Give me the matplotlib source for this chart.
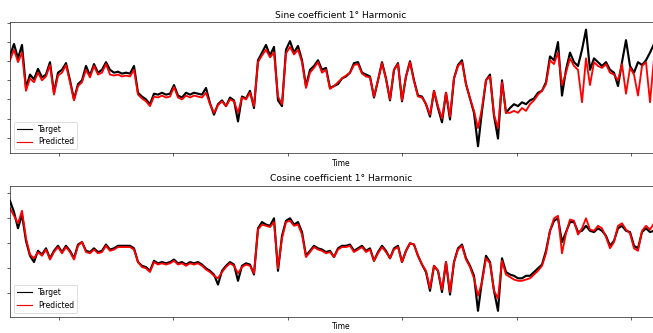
import numpy as np
import matplotlib
matplotlib.use("Agg")
import matplotlib.pyplot as plt

# sine coefficient, 1st harmonic
sin_target = [0.26, 0.38, 0.23, 0.37, -0.08, 0.06, 0.01, 0.12, 0.03, 0.06, 0.19, -0.13, 0.08, 0.11, 0.18, 0.00,
              -0.20, -0.04, 0.00, 0.15, 0.05, 0.17, 0.08, 0.11, 0.19, 0.11, 0.08, 0.09, 0.07, 0.08, 0.07, 0.15,
              -0.13, -0.17, -0.20, -0.25, -0.14, -0.15, -0.13, -0.15, -0.14, -0.05, -0.16, -0.18, -0.13, -0.15, -0.13, -0.14,
              -0.15, -0.08, -0.24, -0.36, -0.25, -0.21, -0.27, -0.18, -0.21, -0.43, -0.17, -0.19, -0.11, -0.29, 0.21, 0.29,
              0.37, 0.26, 0.35, -0.21, -0.27, 0.32, 0.41, 0.29, 0.36, 0.21, -0.06, 0.11, 0.15, 0.21, 0.11, 0.13,
              -0.08, -0.06, -0.04, 0.02, 0.04, 0.08, 0.18, 0.19, 0.08, 0.06, 0.04, -0.18, 0.00, 0.19, 0.02, -0.21,
              0.11, 0.18, -0.22, 0.04, 0.20, 0.00, -0.16, -0.17, -0.25, -0.38, -0.11, -0.29, -0.44, -0.13, -0.41, 0.02,
              0.16, 0.21, -0.04, -0.19, -0.34, -0.69, -0.32, 0.00, 0.06, -0.37, -0.61, 0.00, -0.34, -0.29, -0.25, -0.27,
              -0.23, -0.25, -0.21, -0.19, -0.13, -0.11, -0.02, 0.25, 0.21, 0.40, -0.16, 0.11, 0.29, 0.19, 0.15, 0.32,
              0.53, 0.11, 0.23, 0.19, 0.15, 0.19, 0.11, 0.08, -0.06, 0.19, 0.42, 0.15, 0.08, 0.19, 0.16, 0.21,
              0.29, 0.38, 0.21, 0.17, 0.21, 0.19]
sin_pred = [0.21, 0.32, 0.19, 0.29, -0.11, 0.02, -0.02, 0.08, 0.00, 0.04, 0.16, -0.15, 0.05, 0.08, 0.16, -0.02,
            -0.21, -0.06, -0.02, 0.11, 0.03, 0.15, 0.06, 0.08, 0.17, 0.06, 0.05, 0.06, 0.04, 0.05, 0.04, 0.11,
            -0.15, -0.19, -0.22, -0.27, -0.17, -0.18, -0.16, -0.18, -0.17, -0.07, -0.18, -0.20, -0.16, -0.18, -0.16, -0.17,
            -0.18, -0.13, -0.25, -0.34, -0.26, -0.22, -0.27, -0.20, -0.22, -0.34, -0.18, -0.20, -0.13, -0.27, 0.19, 0.26,
            0.32, 0.24, 0.29, -0.17, -0.25, 0.28, 0.35, 0.27, 0.32, 0.19, -0.08, 0.08, 0.13, 0.19, 0.08, 0.11,
            -0.09, -0.06, -0.02, 0.02, 0.05, 0.08, 0.16, 0.17, 0.07, 0.04, 0.03, -0.17, 0.00, 0.18, 0.01, -0.20,
            0.11, 0.17, -0.21, 0.04, 0.19, -0.01, -0.17, -0.18, -0.25, -0.36, -0.11, -0.27, -0.40, -0.13, -0.38, 0.02,
            0.15, 0.19, -0.04, -0.19, -0.32, -0.50, -0.29, 0.00, 0.04, -0.36, -0.50, -0.02, -0.34, -0.34, -0.32, -0.34,
            -0.29, -0.32, -0.25, -0.21, -0.15, -0.11, -0.04, 0.21, 0.17, 0.29, -0.05, 0.08, 0.23, 0.15, 0.11, -0.23,
            0.23, -0.05, 0.19, 0.15, 0.13, 0.17, 0.08, 0.06, 0.00, 0.17, -0.14, 0.13, 0.06, -0.16, 0.15, 0.19,
            -0.23, 0.23, 0.19, 0.15, 0.19, 0.17]

# cosine coefficient, 1st harmonic
cos_target = [0.34, 0.25, 0.12, 0.23, 0.02, -0.10, -0.15, -0.06, -0.09, -0.04, -0.12, -0.06, -0.02, -0.07, -0.02, -0.06,
              -0.12, -0.01, 0.01, -0.06, -0.07, -0.04, -0.07, -0.06, -0.01, -0.05, -0.04, -0.02, -0.02, -0.02, -0.02, -0.04,
              -0.15, -0.18, -0.19, -0.22, -0.14, -0.16, -0.15, -0.16, -0.15, -0.13, -0.16, -0.15, -0.17, -0.15, -0.16, -0.15,
              -0.17, -0.20, -0.22, -0.25, -0.33, -0.22, -0.18, -0.15, -0.17, -0.30, -0.18, -0.16, -0.17, -0.25, 0.12, 0.17,
              0.15, 0.14, 0.20, -0.22, 0.06, 0.18, 0.20, 0.15, 0.17, 0.09, -0.10, -0.06, -0.02, -0.04, -0.05, -0.07,
              -0.06, -0.11, -0.04, -0.02, -0.02, -0.01, -0.06, -0.04, -0.02, -0.06, -0.04, -0.14, -0.07, -0.02, -0.06, -0.12,
              -0.04, -0.02, -0.15, -0.06, 0.00, -0.01, -0.10, -0.17, -0.23, -0.38, -0.18, -0.22, -0.39, -0.15, -0.41, -0.15,
              -0.04, -0.01, -0.12, -0.18, -0.26, -0.54, -0.30, -0.10, -0.15, -0.38, -0.54, -0.12, -0.23, -0.25, -0.26, -0.28,
              -0.28, -0.26, -0.26, -0.23, -0.20, -0.17, -0.06, 0.10, 0.18, 0.20, 0.01, 0.09, 0.17, 0.17, 0.09, 0.10,
              0.14, 0.10, 0.09, 0.12, 0.10, 0.06, -0.02, 0.02, 0.12, 0.14, 0.10, 0.09, -0.02, -0.04, 0.09, 0.12,
              0.09, 0.10, 0.10, 0.12, 0.10, 0.10]
cos_pred = [0.28, 0.22, 0.16, 0.26, 0.04, -0.09, -0.12, -0.07, -0.10, -0.05, -0.13, -0.07, -0.03, -0.08, -0.03, -0.07,
            -0.13, -0.02, 0.01, -0.07, -0.08, -0.05, -0.08, -0.07, -0.02, -0.06, -0.05, -0.03, -0.03, -0.03, -0.03, -0.05,
            -0.15, -0.19, -0.20, -0.23, -0.15, -0.17, -0.16, -0.17, -0.16, -0.14, -0.17, -0.16, -0.18, -0.16, -0.17, -0.16,
            -0.18, -0.21, -0.23, -0.26, -0.28, -0.23, -0.19, -0.16, -0.18, -0.24, -0.19, -0.17, -0.18, -0.24, 0.11, 0.15,
            0.14, 0.13, 0.17, -0.20, 0.04, 0.17, 0.18, 0.14, 0.15, 0.07, -0.11, -0.07, -0.03, -0.05, -0.06, -0.08,
            -0.07, -0.11, -0.05, -0.03, -0.03, -0.02, -0.07, -0.05, -0.03, -0.07, -0.05, -0.14, -0.08, -0.03, -0.07, -0.12,
            -0.05, -0.03, -0.15, -0.06, 0.00, -0.01, -0.10, -0.17, -0.22, -0.36, -0.18, -0.22, -0.37, -0.15, -0.39, -0.15,
            -0.05, -0.02, -0.13, -0.19, -0.28, -0.42, -0.31, -0.12, -0.16, -0.38, -0.44, -0.14, -0.25, -0.27, -0.29, -0.30,
            -0.30, -0.29, -0.28, -0.25, -0.22, -0.18, -0.08, 0.10, 0.20, 0.22, -0.08, 0.08, 0.19, 0.18, 0.07, 0.12,
            0.20, 0.11, 0.10, 0.14, 0.12, 0.05, -0.04, 0.01, 0.14, 0.16, 0.11, 0.08, -0.04, -0.06, 0.10, 0.14,
            0.11, 0.16, 0.12, 0.13, 0.12, 0.12]

assert len(sin_target) == len(sin_pred) == len(cos_target) == len(cos_pred)
t = np.arange(len(sin_target))

fig = plt.figure(figsize=(653 / 55, 333 / 55), dpi=55)
ax1 = fig.add_axes([0.0153, 0.5396, 1.0138, 0.3934])
ax2 = fig.add_axes([0.0153, 0.0490, 1.0138, 0.3934])

panels = [
    (ax1, sin_target, sin_pred, 'Sine coefficient 1° Harmonic', (-0.764, 0.607), np.arange(-0.6, 0.61, 0.2)),
    (ax2, cos_target, cos_pred, 'Cosine coefficient 1° Harmonic', (-0.587, 0.461), np.arange(-0.4, 0.41, 0.2)),
]
for ax, tgt, pred, title, ylim, yt in panels:
    ax.plot(t, tgt, color='black', lw=2.8, label='Target')
    ax.plot(t, pred, color='red', lw=2.4, label='Predicted')
    ax.set_title(title)
    ax.set_xlabel('Time')
    ax.set_xlim(0, 165.5)
    ax.set_ylim(*ylim)
    ax.set_xticks(np.arange(12.25, 166, 28.6))
    ax.set_yticks(yt)
    ax.tick_params(labelbottom=False, labelleft=False)
    leg = ax.legend(loc='lower left')
    for line in leg.get_lines():
        line.set_linewidth(1.5)

fig.savefig('out.png', dpi=55)
